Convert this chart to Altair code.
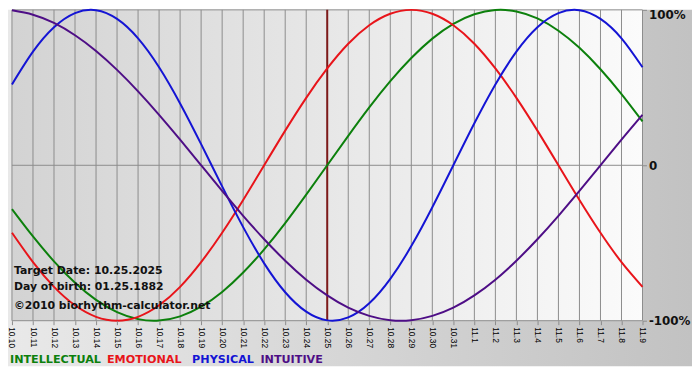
import altair as alt
import pandas as pd

# ---- data ----
date_labels = ["10.10", "10.11", "10.12", "10.13", "10.14", "10.15", "10.16", "10.17",
               "10.18", "10.19", "10.20", "10.21", "10.22", "10.23", "10.24", "10.25",
               "10.26", "10.27", "10.28", "10.29", "10.30", "10.31", "11.1", "11.2",
               "11.3", "11.4", "11.5", "11.6", "11.7", "11.8", "11.9"]

intellectual = [-0.282, -0.458, -0.618, -0.756, -0.866, -0.945, -0.990, -0.999, -0.972, -0.910,
                -0.815, -0.690, -0.541, -0.372, -0.189, 0.000, 0.189, 0.372, 0.541, 0.690,
                0.815, 0.910, 0.972, 0.999, 0.990, 0.945, 0.866, 0.756, 0.618, 0.458, 0.282]
emotional = [-0.434, -0.623, -0.782, -0.901, -0.975, -1.000, -0.975, -0.901, -0.782, -0.623,
             -0.434, -0.223, 0.000, 0.223, 0.434, 0.623, 0.782, 0.901, 0.975, 1.000,
             0.975, 0.901, 0.782, 0.623, 0.434, 0.223, 0.000, -0.223, -0.434, -0.623, -0.782]
physical = [0.520, 0.731, 0.888, 0.979, 0.998, 0.942, 0.817, 0.631, 0.398, 0.136,
            -0.136, -0.398, -0.631, -0.817, -0.942, -0.998, -0.979, -0.888, -0.731, -0.520,
            -0.270, 0.000, 0.270, 0.520, 0.731, 0.888, 0.979, 0.998, 0.942, 0.817, 0.631]
intuitive = [0.997, 0.969, 0.916, 0.837, 0.736, 0.614, 0.476, 0.325, 0.165, 0.000,
             -0.165, -0.325, -0.476, -0.614, -0.736, -0.837, -0.916, -0.969, -0.997, -0.997,
             -0.969, -0.916, -0.837, -0.736, -0.614, -0.476, -0.325, -0.165, 0.000, 0.165, 0.325]

series_names = ["INTELLECTUAL", "EMOTIONAL", "PHYSICAL", "INTUITIVE"]
series_colors = ["#0c800c", "#e8141a", "#1414d4", "#4e0e86"]
y_ticks = [-1, 0, 1]
y_tick_labels = ["-100%", "0", "100%"]
target_date = "10.25"
annotation_lines = ["Target Date: 10.25.2025", "Day of birth: 01.25.1882",
                    "\u00a92010 biorhythm-calculator.net"]

# ---- layout ----
W, H = 637, 314
PAD_L, PAD_R, PAD_B = 4, 50, 56
FONT = "DejaVu Sans"
GRID = "#8c8c8c"

rows = []
for name, vals in zip(series_names, [intellectual, emotional, physical, intuitive]):
    for d, v in zip(date_labels, vals):
        rows.append({"date": d, "value": v, "series": name})
df = pd.DataFrame(rows)

x_scale = alt.Scale(type="point", domain=date_labels, padding=0)
y_scale = alt.Scale(domain=[-1, 1], nice=False, zero=False)

label_expr = " : ".join(
    [f"datum.value == {v} ? '{t}'" for v, t in zip(y_ticks[:-1], y_tick_labels[:-1])]
    + [f"'{y_tick_labels[-1]}'"]
)

x_axis = alt.Axis(title=None, labelAngle=90, labelFont="Liberation Sans", labelFontSize=8.5,
                  labelColor="#000000", labelPadding=2, tickSize=4, tickColor=GRID,
                  domain=False, grid=False, labelOverlap=False, zindex=1)
y_axis = alt.Axis(title=None, orient="right", values=y_ticks, labelExpr=label_expr,
                  labelFont=FONT, labelFontSize=12, labelFontWeight="bold",
                  labelColor="#111111", labelPadding=2, tickSize=4, tickColor=GRID,
                  labelBaseline={"condition": {"test": f"datum.value == {y_ticks[-1]}",
                                               "value": "top"},
                                 "value": "middle"},
                  domain=False, grid=False, zindex=1)

X = alt.X("date:O", scale=x_scale, sort=date_labels, axis=x_axis)
Y = alt.Y("value:Q", scale=y_scale, axis=y_axis)

dummy = pd.DataFrame({"a": [0]})

outer_bg = alt.Chart(dummy).mark_rect(
    color=alt.Gradient(gradient="linear", x1=0, x2=1, y1=0, y2=0,
                       stops=[alt.GradientStop(color="#e9e9e9", offset=0),
                              alt.GradientStop(color="#c2c2c2", offset=1)]),
    strokeWidth=0,
).encode(x=alt.value(-PAD_L), x2=alt.value(W + PAD_R), y=alt.value(0), y2=alt.value(H + 46))

plot_bg = alt.Chart(dummy).mark_rect(
    color=alt.Gradient(gradient="linear", x1=0, x2=1, y1=0, y2=0,
                       stops=[alt.GradientStop(color="#d3d3d3", offset=0),
                              alt.GradientStop(color="#fbfbfb", offset=1)]),
    strokeWidth=0,
).encode(x=alt.value(0), x2=alt.value(W), y=alt.value(0), y2=alt.value(H))

vgrid = alt.Chart(pd.DataFrame({"date": date_labels})).mark_rule(
    color=GRID, strokeWidth=1).encode(x=X)
hgrid = alt.Chart(pd.DataFrame({"value": y_ticks})).mark_rule(
    color=GRID, strokeWidth=1).encode(y=Y)

target = alt.Chart(pd.DataFrame({"date": [target_date]})).mark_rule(
    color="#7e1a1a", strokeWidth=2).encode(x=X)

lines = alt.Chart(df).mark_line(strokeWidth=2, interpolate="natural").encode(
    x=X, y=Y,
    color=alt.Color("series:N", scale=alt.Scale(domain=series_names, range=series_colors),
                    legend=None),
)

ann_y = [H - 50, H - 34, H - 15]
annotations = [
    alt.Chart(dummy).mark_text(text=t, align="left", baseline="middle", font=FONT,
                               fontSize=11, fontWeight="bold", color="#111111")
    .encode(x=alt.value(2), y=alt.value(yy))
    for t, yy in zip(annotation_lines, ann_y)
]

legend_x = [-2, 96, 182, 251]
legend_texts = [
    alt.Chart(dummy).mark_text(text=n, align="left", baseline="middle", font=FONT,
                               fontSize=11.3, fontWeight="bold", color=c)
    .encode(x=alt.value(lx), y=alt.value(H + 40))
    for n, c, lx in zip(series_names, series_colors, legend_x)
]

chart = alt.layer(outer_bg, plot_bg, vgrid, hgrid, target, lines,
                  *annotations, *legend_texts).properties(
    width=W, height=H,
    autosize=alt.AutoSizeParams(type="none"),
    padding={"left": PAD_L, "top": 0, "right": PAD_R, "bottom": PAD_B},
).configure_view(strokeWidth=0)

chart.save("out.html", embed_options={"renderer": "svg", "actions": False})
